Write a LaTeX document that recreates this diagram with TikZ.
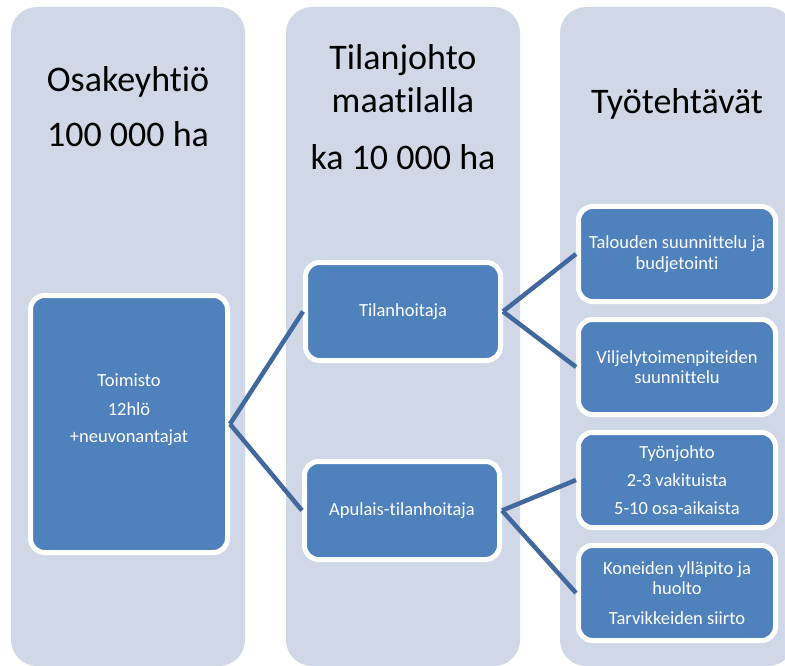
\documentclass[tikz,border=0pt]{standalone}
\usepackage{fontspec}
\setmainfont{Carlito}[RawFeature={-liga;-clig;-dlig;-calt}]
\usepackage{tikz}
\definecolor{lanefill}{HTML}{D0D8E8}
\definecolor{boxfill}{HTML}{4F81BD}
\definecolor{linkcol}{HTML}{41699D}

\tikzset{
  lane/.style={fill=lanefill, rounded corners=26pt},
  title/.style={font=\fontsize{36}{43}\selectfont, align=center, text=black, inner sep=0pt},
  task/.style={fill=boxfill, draw=white, line width=5pt, rounded corners=14pt,
    text=white, align=center, inner sep=0pt, font=\fontsize{18.5}{20.5}\selectfont},
  boxtext/.style={text=white, align=center, inner sep=0pt, font=\fontsize{18.5}{20.5}\selectfont},
  link/.style={draw=linkcol, line width=4.5pt},
}

\begin{document}
\begin{tikzpicture}[x=1pt, y=-1pt]
\clip (0,0) rectangle (785,666);

% kaistat
\fill[lane] (11,7) rectangle (245,666);
\fill[lane] (286,7) rectangle (520,666);
\fill[lane] (560,7) rectangle (794,666);

% otsikot
\node[title] (corp) at (128,107) {Osakeyhtiö\\[12pt]100 000 ha};
\node[title] (farm) at (403,107) {Tilanjohto\\maatilalla\\[14pt]ka 10 000 ha};
\node[title] (work) at (677,104) {Työtehtävät};

% laatikot
\node[task, minimum width=197, minimum height=257] (toimisto) at (129,424) {};
\node[boxtext] (toimistotext) at (129,410) {Toimisto\\[8pt]12hlö\\[7pt]+neuvonantajat};

\node[task, minimum width=195, minimum height=98] (tilanhoitaja) at (403,311.5) {Tilanhoitaja};
\node[task, minimum width=195, minimum height=98] (apulais) at (402,510.5) {Apulais-tilanhoitaja};

\node[task, minimum width=197, minimum height=95] (talous) at (677,254) {Talouden suunnittelu ja\\budjetointi};
\node[task, minimum width=197, minimum height=95] (viljely) at (677,367) {Viljelytoimenpiteiden\\suunnittelu};
\node[task, minimum width=197, minimum height=95] (tyonjohto) at (677,480) {Työnjohto\\[8pt]2-3 vakituista\\[7pt]5-10 osa-aikaista};
\node[task, minimum width=197, minimum height=95] (koneet) at (677,593) {Koneiden ylläpito ja\\huolto\\[9pt]Tarvikkeiden siirto};

% yhteydet
\draw[link] (toimisto.east) -- (tilanhoitaja.west);
\draw[link] (toimisto.east) -- (apulais.west);
\draw[link] (tilanhoitaja.east) -- (talous.west);
\draw[link] (tilanhoitaja.east) -- (viljely.west);
\draw[link] (apulais.east) -- (tyonjohto.west);
\draw[link] (apulais.east) -- (koneet.west);
\end{tikzpicture}
\end{document}
